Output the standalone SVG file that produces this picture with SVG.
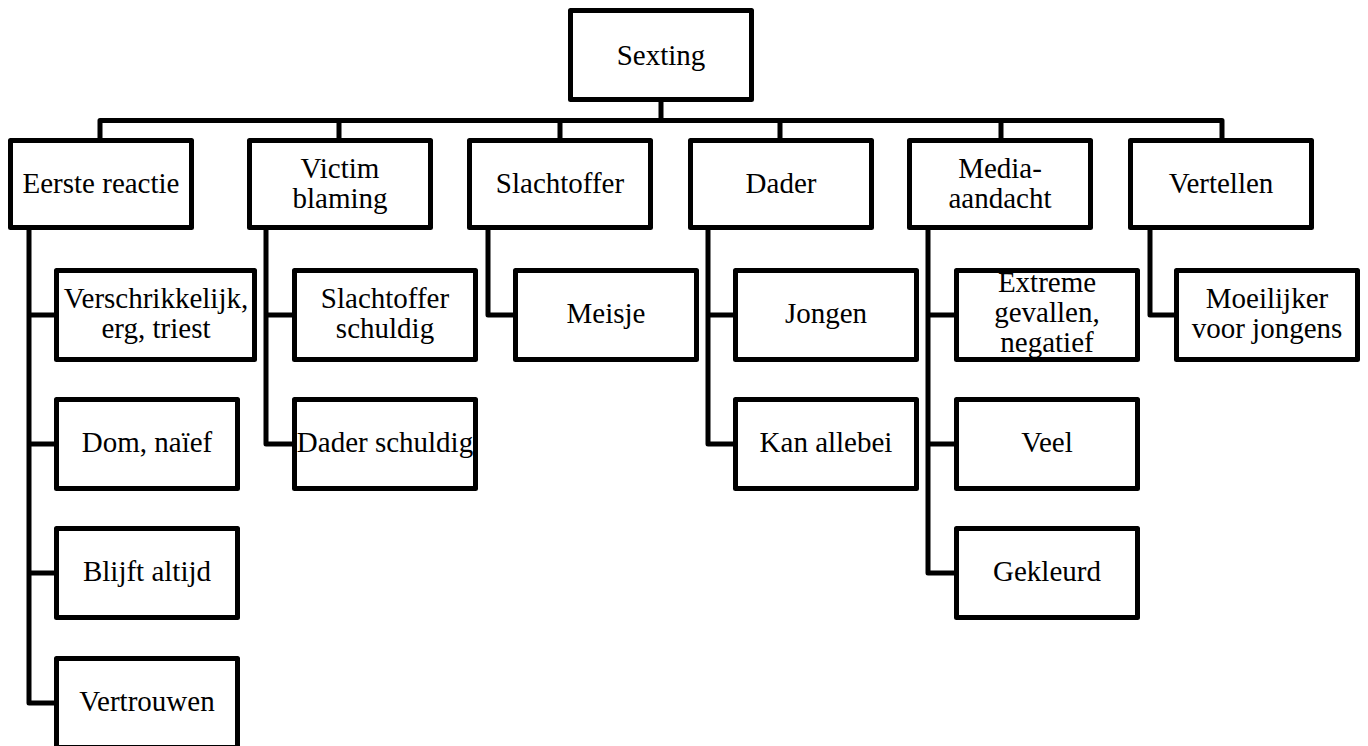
<svg xmlns="http://www.w3.org/2000/svg" width="1368" height="746" viewBox="0 0 1368 746" font-family="'Liberation Serif', 'Times New Roman', Times, serif">
<style>
rect.box{fill:#fff;stroke:#000;stroke-width:5;stroke-linejoin:round}
.conn path{fill:none;stroke:#000;stroke-width:5;stroke-linejoin:round}
text{font-family:'Liberation Serif', 'Times New Roman', Times, serif;font-size:29px;fill:#000;text-anchor:middle}
</style>
<rect width="1368" height="746" fill="#fff"/>
<g class="conn">
<path d="M661,100 V120.5 M100,138 V120.5 H1222 V138 M339,120.5 V138 M560,120.5 V138 M780,120.5 V138 M1001,120.5 V138"/>
<path d="M29,230 V703 H56 M29,315 H56 M29,444 H56 M29,573 H56"/>
<path d="M266,230 V444 H294 M266,315 H294"/>
<path d="M488,230 V315 H515"/>
<path d="M708,230 V444 H735 M708,315 H735"/>
<path d="M928,230 V573 H956 M928,315 H956 M928,444 H956"/>
<path d="M1150,230 V315 H1176"/>
</g>
<g id="root"><rect class="box" x="570.5" y="10.5" width="181" height="89"/><text x="661" y="65">Sexting</text></g>
<g id="n1"><rect class="box" x="10.5" y="140.5" width="181" height="87"/><text x="101" y="193">Eerste reactie</text></g>
<g id="n2"><rect class="box" x="249.5" y="140.5" width="181" height="87"/><text x="340" y="178">Victim</text><text x="340" y="208">blaming</text></g>
<g id="n3"><rect class="box" x="469.5" y="140.5" width="181" height="87"/><text x="560" y="193">Slachtoffer</text></g>
<g id="n4"><rect class="box" x="690.5" y="140.5" width="181" height="87"/><text x="781" y="193">Dader</text></g>
<g id="n5"><rect class="box" x="909.5" y="140.5" width="181" height="87"/><text x="1000" y="178">Media-</text><text x="1000" y="208">aandacht</text></g>
<g id="n6"><rect class="box" x="1130.5" y="140.5" width="181" height="87"/><text x="1221" y="193">Vertellen</text></g>
<g id="n1a"><rect class="box" x="56.5" y="270.5" width="198" height="89"/><text x="156" y="308">Verschrikkelijk,</text><text x="156" y="338">erg, triest</text></g>
<g id="n1b"><rect class="box" x="56.5" y="399.5" width="181" height="89"/><text x="147" y="452">Dom, naïef</text></g>
<g id="n1c"><rect class="box" x="56.5" y="528.5" width="181" height="89"/><text x="147" y="581">Blijft altijd</text></g>
<g id="n1d"><rect class="box" x="56.5" y="658.5" width="181" height="89"/><text x="147" y="711">Vertrouwen</text></g>
<g id="n2a"><rect class="box" x="294.5" y="270.5" width="181" height="89"/><text x="385" y="308">Slachtoffer</text><text x="385" y="338">schuldig</text></g>
<g id="n2b"><rect class="box" x="294.5" y="399.5" width="181" height="89"/><text x="385" y="452">Dader schuldig</text></g>
<g id="n3a"><rect class="box" x="515.5" y="270.5" width="181" height="89"/><text x="606" y="323">Meisje</text></g>
<g id="n4a"><rect class="box" x="735.5" y="270.5" width="181" height="89"/><text x="826" y="323">Jongen</text></g>
<g id="n4b"><rect class="box" x="735.5" y="399.5" width="181" height="89"/><text x="826" y="452">Kan allebei</text></g>
<g id="n5a"><rect class="box" x="956.5" y="270.5" width="181" height="89"/><text x="1047" y="292">Extreme</text><text x="1047" y="322">gevallen,</text><text x="1047" y="352">negatief</text></g>
<g id="n5b"><rect class="box" x="956.5" y="399.5" width="181" height="89"/><text x="1047" y="452">Veel</text></g>
<g id="n5c"><rect class="box" x="956.5" y="528.5" width="181" height="89"/><text x="1047" y="581">Gekleurd</text></g>
<g id="n6a"><rect class="box" x="1176.5" y="270.5" width="181" height="89"/><text x="1267" y="308">Moeilijker</text><text x="1267" y="338">voor jongens</text></g>
</svg>
